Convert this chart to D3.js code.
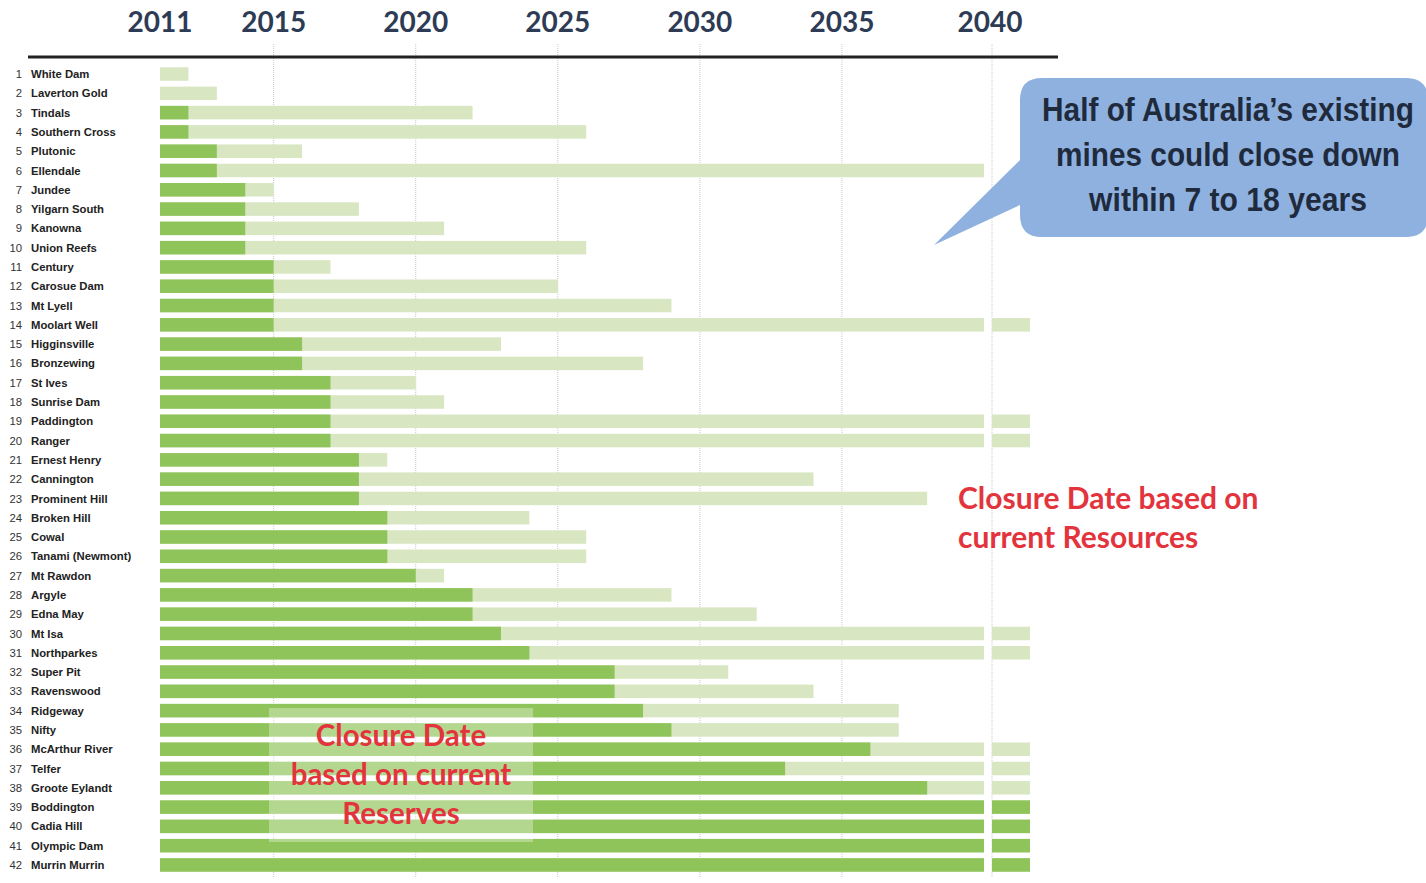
<!DOCTYPE html>
<html><head><meta charset="utf-8">
<script src="https://cdn.jsdelivr.net/npm/d3@7"></script>
<style>
html,body{margin:0;padding:0;background:#fff;}
svg{display:block;}
</style></head>
<body>
<svg id="chart" width="1426" height="883"></svg>
<script>
// ---- data ----
const mines = ["White Dam","Laverton Gold","Tindals","Southern Cross","Plutonic","Ellendale","Jundee","Yilgarn South","Kanowna","Union Reefs","Century","Carosue Dam","Mt Lyell","Moolart Well","Higginsville","Bronzewing","St Ives","Sunrise Dam","Paddington","Ranger","Ernest Henry","Cannington","Prominent Hill","Broken Hill","Cowal","Tanami (Newmont)","Mt Rawdon","Argyle","Edna May","Mt Isa","Northparkes","Super Pit","Ravenswood","Ridgeway","Nifty","McArthur River","Telfer","Groote Eylandt","Boddington","Cadia Hill","Olympic Dam","Murrin Murrin"];
// closure year based on reserves (2041 = beyond 2040)
const reserveEnd = [2011,2011,2012,2012,2013,2013,2014,2014,2014,2014,2015,2015,2015,2015,2016,2016,2017,2017,2017,2017,2018,2018,2018,2019,2019,2019,2020,2022,2022,2023,2024,2027,2027,2028,2029,2036,2033,2038,2041,2041,2041,2041];
// closure year based on resources (2041 = beyond 2040)
const resourceEnd = [2012,2013,2022,2026,2016,2040,2015,2018,2021,2026,2017,2025,2029,2041,2023,2028,2020,2021,2041,2041,2019,2034,2038,2024,2026,2026,2021,2029,2032,2041,2041,2031,2034,2037,2037,2041,2041,2041,2041,2041,2041,2041];
const tickYears = [2011,2015,2020,2025,2030,2035,2040];
const gridYears = [2015,2020,2025,2030,2035];
const startYear = 2011, breakYear = 2040, beyondYear = 2041;

const rows = mines.map((m,i)=>({idx:i+1,name:m,res:reserveEnd[i],rsc:resourceEnd[i]}));

const svg = d3.select("#chart");
const x = d3.scaleLinear().domain([startYear, breakYear]).range([160, 984]);
const xb = d3.scaleLinear().domain([breakYear, beyondYear]).range([992, 1030]);
const y = d3.scaleBand().domain(rows.map(d=>d.idx)).range([64.4, 874.6]).paddingInner(0.3).paddingOuter(0.15);

const dark = "#8fc45a", light = "#d8e6c2";

// grid lines
const grid = svg.append("g");
grid.selectAll("line.g").data(gridYears).join("line")
  .attr("x1", d=>x(d)).attr("x2", d=>x(d)).attr("y1", 44).attr("y2", 878)
  .attr("stroke", "#c8c8c8").attr("stroke-width", 1).attr("stroke-dasharray", "1,1");
grid.append("line").attr("x1", xb(breakYear)).attr("x2", xb(breakYear)).attr("y1", 44).attr("y2", 878)
  .attr("stroke", "#c8c8c8").attr("stroke-width", 1).attr("stroke-dasharray", "1,1");

// top axis
const tickPos = d => d === breakYear ? xb(d) - 2 : x(d);
svg.append("g").selectAll("text").data(tickYears).join("text")
  .attr("x", tickPos).attr("y", 32).attr("text-anchor", "middle")
  .attr("font-family", "Lato, 'Open Sans', sans-serif").attr("font-weight", 700)
  .attr("font-size", 28).attr("fill", "#2d3b55").text(d=>d);
svg.append("line").attr("x1", 28).attr("x2", 1058).attr("y1", 57).attr("y2", 57)
  .attr("stroke", "#222").attr("stroke-width", 3);

// bars
const bars = svg.append("g");
bars.selectAll("rect.rsc").data(rows).join("rect")
  .attr("x", x(startYear)).attr("y", d=>y(d.idx))
  .attr("width", d=>x(Math.min(d.rsc, breakYear)) - x(startYear))
  .attr("height", y.bandwidth()).attr("fill", light);
bars.selectAll("rect.rscb").data(rows.filter(d=>d.rsc>breakYear)).join("rect")
  .attr("x", xb(breakYear)).attr("y", d=>y(d.idx))
  .attr("width", d=>xb(d.rsc) - xb(breakYear))
  .attr("height", y.bandwidth()).attr("fill", light);
bars.selectAll("rect.res").data(rows.filter(d=>d.res>startYear)).join("rect")
  .attr("x", x(startYear)).attr("y", d=>y(d.idx))
  .attr("width", d=>x(Math.min(d.res, breakYear)) - x(startYear))
  .attr("height", y.bandwidth()).attr("fill", dark);
bars.selectAll("rect.resb").data(rows.filter(d=>d.res>breakYear)).join("rect")
  .attr("x", xb(breakYear)).attr("y", d=>y(d.idx))
  .attr("width", d=>xb(d.res) - xb(breakYear))
  .attr("height", y.bandwidth()).attr("fill", dark);

// row labels
const lab = svg.append("g").attr("font-family", "Liberation Sans, Arial, sans-serif").attr("font-size", 11.3);
lab.selectAll("text.n").data(rows).join("text")
  .attr("x", 22).attr("y", d=>y(d.idx)+y.bandwidth()/2).attr("dy", "0.36em")
  .attr("text-anchor", "end").attr("fill", "#333").text(d=>d.idx);
lab.selectAll("text.m").data(rows).join("text")
  .attr("x", 31).attr("y", d=>y(d.idx)+y.bandwidth()/2).attr("dy", "0.36em")
  .attr("font-weight", 700).attr("fill", "#222").text(d=>d.name);

// overlay box for reserves
svg.append("rect").attr("x", 269).attr("y", 708).attr("width", 264).attr("height", 134)
  .attr("fill", "#ffffff").attr("fill-opacity", 0.33);
const red = "#e3343d";
const ov = svg.append("g").attr("font-family", "Lato, 'Open Sans', sans-serif").attr("font-weight", 700)
  .attr("font-size", 29.5).attr("fill", red).attr("text-anchor", "middle");
["Closure Date","based on current","Reserves"].forEach((t,i)=>{
  ov.append("text").attr("x", 401).attr("y", 746 + i*39).text(t);
});

// resources annotation
const rs = svg.append("g").attr("font-family", "Lato, 'Open Sans', sans-serif").attr("font-weight", 700)
  .attr("font-size", 30).attr("fill", red);
["Closure Date based on","current Resources"].forEach((t,i)=>{
  rs.append("text").attr("x", 958).attr("y", 509 + i*39).text(t);
});

// callout
const blue = "#8fb1e0";
svg.append("path")
  .attr("d", "M1042,78 H1406 Q1428,78 1428,100 V215 Q1428,237 1406,237 H1042 Q1020,237 1020,215 V205 L934,245 L1020,160 V100 Q1020,78 1042,78 Z")
  .attr("fill", blue);
const coLines = ["Half of Australia\u2019s existing","mines could close down","within 7 to 18 years"];
const coW = [372, 344, 278];
const baseSize = 33;
coLines.forEach((t,i)=>{
  const g = svg.append("g");
  const tx = g.append("text").attr("x", 0).attr("y", 0)
    .attr("font-family", "'Liberation Sans', Arial, sans-serif").attr("font-weight", 700)
    .attr("font-size", baseSize).attr("fill", "#1f2b3d").attr("text-anchor", "middle").text(t);
  const natural = tx.node().getComputedTextLength();
  const fs = baseSize * coW[i] / natural;
  tx.attr("font-size", fs);
  g.attr("transform", `translate(1228,${121 + i*45}) scale(1,${baseSize/fs})`);
});
</script>
</body></html>
